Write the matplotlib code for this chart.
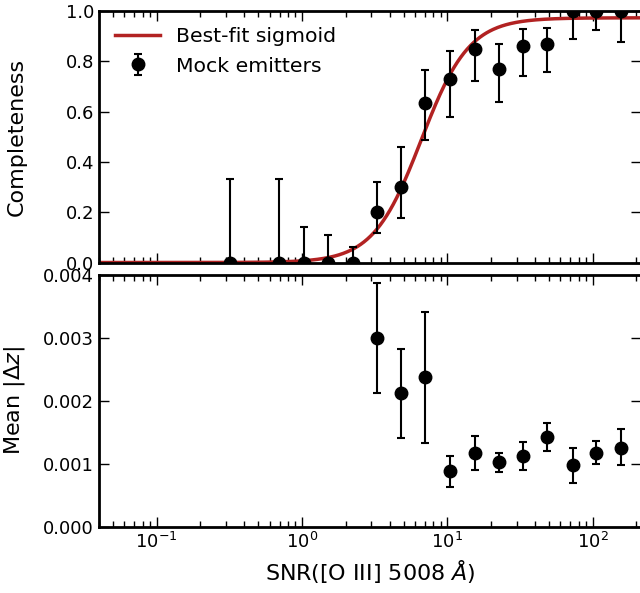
import numpy as np
import matplotlib
matplotlib.use("Agg")
import matplotlib.pyplot as plt

# binned SNR centres
snr = np.array([0.318, 0.690, 1.03, 1.50, 2.23, 3.26, 4.81, 7.05, 10.4,
                15.4, 22.6, 33.2, 48.5, 73.1, 106, 157])

# completeness and its bounds
comp = np.array([0, 0, 0, 0, 0, 0.20, 0.30, 0.636, 0.728, 0.849, 0.771,
                 0.860, 0.869, 1.0, 1.0, 1.0])
comp_lo = np.array([0, 0, 0, 0, 0, 0.118, 0.177, 0.486, 0.579, 0.723, 0.637,
                    0.740, 0.758, 0.890, 0.926, 0.877])
comp_hi = np.array([0.332, 0.332, 0.142, 0.109, 0.060, 0.32, 0.458, 0.766,
                    0.841, 0.923, 0.868, 0.928, 0.934, 1.0, 1.0, 1.0])

# mean |dz| for bins with detections (from 6th bin onward)
dz = np.array([0.00300, 0.00212, 0.00238, 0.000884, 0.001174, 0.001026,
               0.001126, 0.00143, 0.00098, 0.00118, 0.00126])
dz_lo = np.array([0.00212, 0.00141, 0.00134, 0.000632, 0.00090, 0.00088,
                  0.00090, 0.00121, 0.000705, 0.00100, 0.00098])
dz_hi = np.array([0.00388, 0.00282, 0.00342, 0.00113, 0.00145, 0.00118,
                  0.00135, 0.00165, 0.00126, 0.00137, 0.00155])

# sigmoid fit parameters (in log10 SNR)
amp = 0.973
logx0 = 0.82
width = 0.165


def sigmoid(x):
    return amp / (1 + np.exp(-(np.log10(x) - logx0) / width))


fig = plt.figure(figsize=(6.4, 5.93), dpi=100)
ax1 = fig.add_axes([0.1545, 0.5573, 0.847, 0.4241])
ax2 = fig.add_axes([0.1545, 0.1113, 0.847, 0.4250])

xx = np.logspace(np.log10(0.04), np.log10(215), 500)
ax1.plot(xx, sigmoid(xx), color='#b22222', lw=2.5, label='Best-fit sigmoid')
ax1.errorbar(snr, comp, yerr=[comp - comp_lo, comp_hi - comp], fmt='o',
             color='k', ms=9, elinewidth=1.5, capsize=3, capthick=1.5,
             label='Mock emitters')

s = snr[5:]
ax2.errorbar(s, dz, yerr=[dz - dz_lo, dz_hi - dz], fmt='o', color='k',
             ms=9, elinewidth=1.5, capsize=3, capthick=1.5)

for ax in (ax1, ax2):
    ax.set_xscale('log')
    ax.set_xlim(0.04, 215)
    ax.tick_params(which='both', direction='in', top=True, right=True,
                   labelsize=13)
    ax.tick_params(which='major', length=7, width=1)
    ax.tick_params(which='minor', length=4, width=1)
    for sp in ax.spines.values():
        sp.set_linewidth(2)

ax1.set_ylim(0, 1)
ax1.set_yticks([0, 0.2, 0.4, 0.6, 0.8, 1.0])
ax1.tick_params(which='both', labelbottom=False)
ax1.set_ylabel('Completeness', fontsize=16)
ax1.yaxis.set_label_coords(-0.133, 0.5)
ax1.legend(loc='upper left', frameon=False, fontsize=14.7, handlelength=2.2,
           borderaxespad=0.4)

ax2.set_ylim(0, 0.004)
ax2.set_yticks([0, 0.001, 0.002, 0.003, 0.004])
ax2.set_yticklabels(['0.000', '0.001', '0.002', '0.003', '0.004'])
ax2.set_ylabel(r'Mean $|\Delta z|$', fontsize=16)
ax2.yaxis.set_label_coords(-0.133, 0.5)
ax2.set_xlabel(r'SNR([O III] 5008 $\AA$)', fontsize=16)

fig.savefig('out.png', dpi=100)
